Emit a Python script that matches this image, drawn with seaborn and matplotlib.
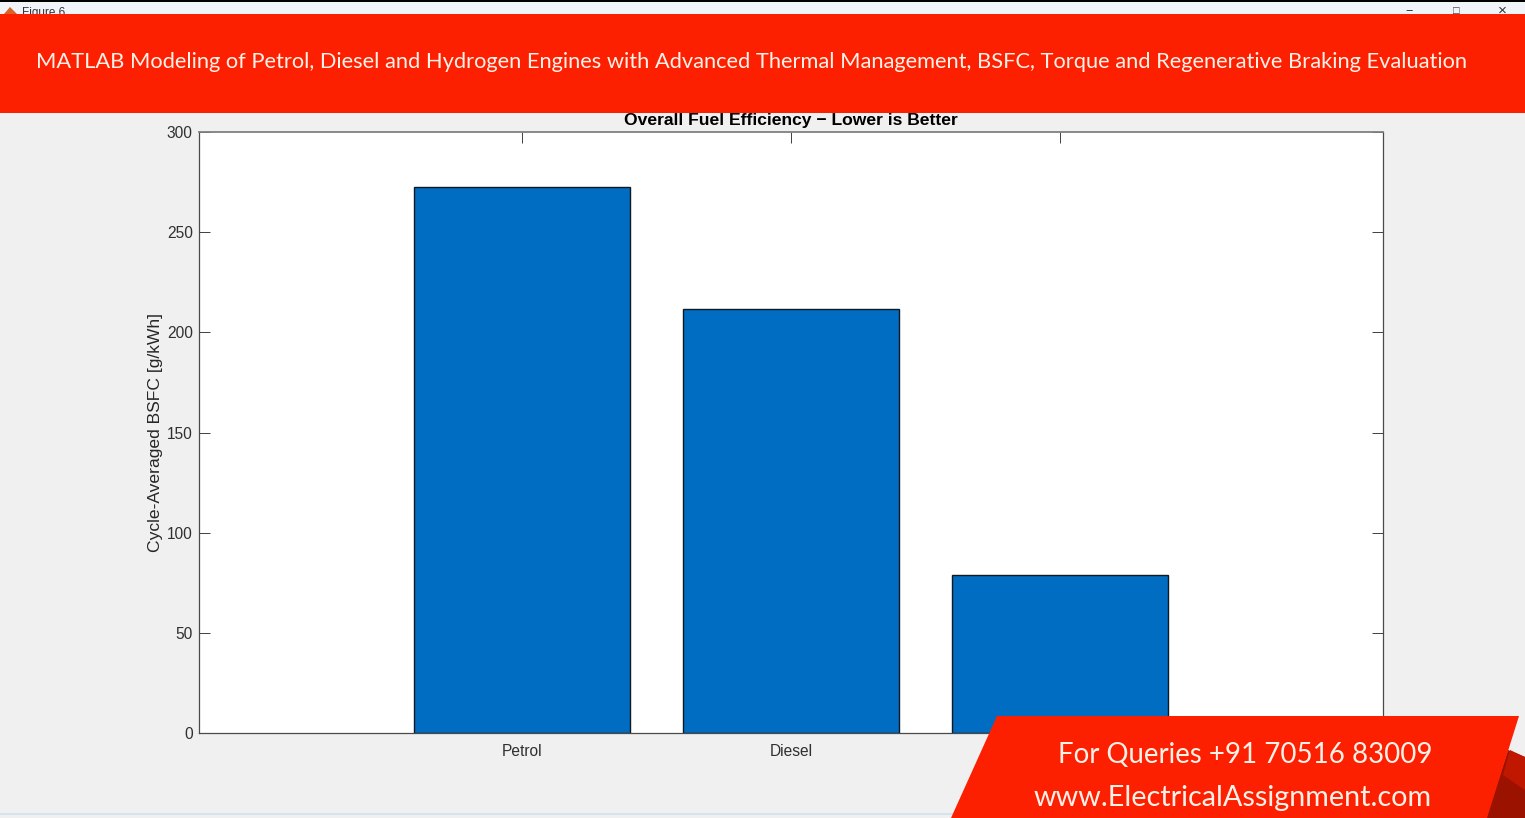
import numpy as np
import pandas as pd
import seaborn as sns
from matplotlib import pyplot as plt
from matplotlib.patches import Polygon, Rectangle

#%% # Values

engines = ['Petrol', 'Diesel', 'Hydrogen']
bsfc = [272.5, 211.5, 79]
yticks = [0, 50, 100, 150, 200, 250, 300]

banner_top = ('MATLAB Modeling of Petrol, Diesel and Hydrogen Engines with Advanced Thermal '
              'Management, BSFC, Torque and Regenerative Braking Evaluation')
banner_line1 = 'For Queries +91 70516 83009'
banner_line2 = 'www.ElectricalAssignment.com'

W, H = 1525, 818
RED = '#fd2000'

#%% # Bar chart

sns.set_theme(style='white')
plt.rcParams['font.family'] = ['Liberation Sans', 'DejaVu Sans']

df = pd.DataFrame({'engine': engines, 'bsfc': bsfc})

fig = plt.figure(figsize=(W / 100, H / 100), dpi=100, facecolor='#f0f0f0')
ax = fig.add_axes([199 / W, 1 - 733 / H, (1383 - 199) / W, (733 - 132) / H])

sns.barplot(data=df, x='engine', y='bsfc', ax=ax, color='#006cc2', saturation=1,
            width=0.8, edgecolor='#101820', linewidth=1)

ax.set_xlim(-1.2, 3.2)
ax.set_ylim(0, 300)
ax.set_yticks(yticks)
ax.set_xlabel('')
ax.set_ylabel('Cycle-Averaged BSFC [g/kWh]', fontsize=12.6, color='#262626', labelpad=3)
ax.set_title('Overall Fuel Efficiency \u2212 Lower is Better', fontsize=12.6,
             fontweight='bold', color='black', pad=5)
ax.tick_params(axis='both', which='major', direction='in', length=8, width=0.7,
               top=True, right=True, bottom=True, left=True, color='#404040',
               labelcolor='#303030', labelsize=11.2)
ax.tick_params(axis='x', pad=8)
ax.tick_params(axis='y', pad=4.5)
for s in ax.spines.values():
    s.set_visible(True)
    s.set_color('#4a4a4a')
    s.set_linewidth(0.9)
ax.spines['top'].set_color('#808080')
ax.spines['top'].set_linewidth(1.3)


#%% # Window frame and banners, all in pixels of the screenshot

def px_poly(pts, color, z):
    pts = [(x / W, 1 - y / H) for x, y in pts]
    fig.add_artist(Polygon(pts, closed=True, transform=fig.transFigure,
                           facecolor=color, edgecolor='none', zorder=z))


def px_text(x, y, s, **kw):
    fig.text(x / W, 1 - y / H, s, va='center', **kw)


# window title bar
px_poly([(0, 2), (W, 2), (W, 16), (0, 16)], '#f1f5fa', 1)
px_poly([(0, 0), (W, 0), (W, 2), (0, 2)], 'black', 1.1)
px_poly([(4, 14), (10, 7), (17, 14)], '#d9622b', 1.2)
px_text(22, 13, 'Figure 6', fontsize=8.5, color='#333333', zorder=1.2)
px_text(1409, 12, '\u2212', fontsize=9, color='#333333', ha='center', zorder=1.2)
px_text(1456, 11, '\u25a1', fontsize=8, color='#333333', ha='center', zorder=1.2)
px_text(1502, 11, '\u00d7', fontsize=11, color='#333333', ha='center', zorder=1.2)
px_poly([(0, 813), (W, 813), (W, 815), (0, 815)], '#d5e3ee', 1.2)

# top banner
px_poly([(0, 14), (W, 14), (W, 113), (0, 113)], RED, 2)
px_text(752, 62, banner_top, fontsize=15.75, color='#fff1e8', ha='center',
        family='Lato', zorder=3)

# bottom right banner with its fold
px_poly([(1508, 750), (W, 757), (W, 818), (1486, 818)], '#9c1200', 2)
px_poly([(1510, 750), (W, 757), (W, 790), (1503, 775)], '#c01800', 2.01)
px_poly([(997, 716), (1519, 716), (1487, 818), (951, 818)], RED, 2.1)
px_text(1432, 755, banner_line1, fontsize=19.9, color='#fff1e8', ha='right',
        family='Lato', zorder=3)
px_text(1432, 798, banner_line2, fontsize=20.7, color='#fff1e8', ha='right',
        family='Lato', zorder=3)

fig.savefig('out.png', dpi=100, facecolor=fig.get_facecolor())
